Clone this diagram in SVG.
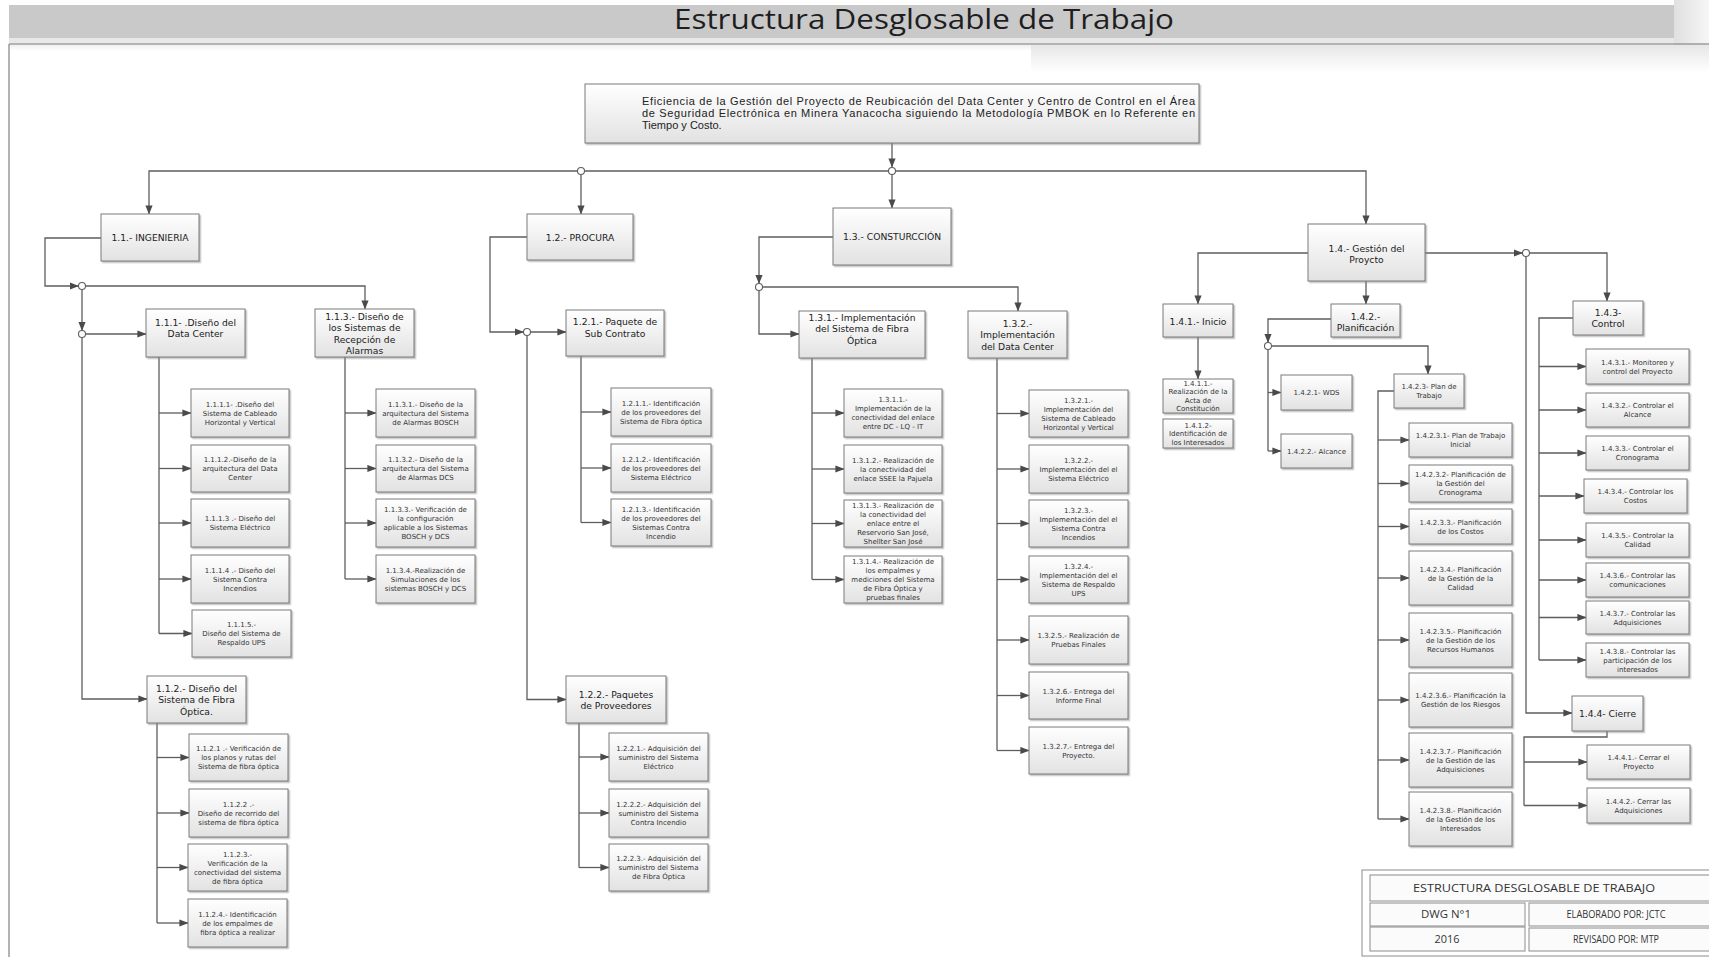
<svg xmlns="http://www.w3.org/2000/svg" width="1709" height="957" viewBox="0 0 1709 957">
<defs>
  <linearGradient id="boxfill" x1="0" y1="0" x2="0" y2="1">
    <stop offset="0" stop-color="#ffffff"/>
    <stop offset="1" stop-color="#e2e2e2"/>
  </linearGradient>
  <linearGradient id="fade" x1="0" y1="0" x2="0" y2="1">
    <stop offset="0" stop-color="#e6e6e6"/>
    <stop offset="1" stop-color="#ffffff"/>
  </linearGradient>
  <linearGradient id="edge" x1="0" y1="0" x2="1" y2="0">
    <stop offset="0" stop-color="#e0e0e0"/>
    <stop offset="1" stop-color="#f6f6f6"/>
  </linearGradient>
  <filter id="sh" x="-10%" y="-10%" width="130%" height="140%">
    <feDropShadow dx="1.5" dy="1.5" stdDeviation="0.6" flood-color="#8a8a8a" flood-opacity="0.55"/>
  </filter>
  <marker id="ah" markerWidth="9" markerHeight="8" refX="8.6" refY="4" orient="auto" markerUnits="userSpaceOnUse">
    <path d="M0,0.4 L9,4 L0,7.6 z" fill="#4a4a4a"/>
  </marker>
  <style>
    .box { fill: url(#boxfill); stroke: #7a7a7a; stroke-width: 1; filter: url(#sh); }
    .s { font-family: "DejaVu Sans", sans-serif; font-size: 7px; fill: #333; text-anchor: middle; }
    .m { font-family: "DejaVu Sans", sans-serif; font-size: 9.2px; fill: #222; text-anchor: middle; }
    .c { fill: none; stroke: #5e5e5e; stroke-width: 1.3; }
    .a { marker-end: url(#ah); }
    .j { fill: #fff; stroke: #5e5e5e; stroke-width: 1.1; }
    .cell { fill: #fbfbfb; stroke: #8c8c8c; stroke-width: 1; }
    .tb { font-family: "Open Sans", "Liberation Sans", sans-serif; font-size: 10.5px; fill: #333; text-anchor: middle; }
  </style>
</defs>

<!-- sheet background, title bar and frame -->
<rect x="0" y="0" width="1709" height="957" fill="#fff"/>
<rect x="9" y="5" width="1665" height="33" fill="#c9c9c9"/>
<rect x="1674" y="0" width="35" height="62" fill="url(#edge)"/>
<rect x="9" y="38" width="1665" height="5" fill="#e8e8e8"/>
<rect x="1031" y="45" width="678" height="27" fill="url(#fade)"/>
<rect x="10" y="45" width="1021" height="6" fill="url(#fade)" opacity="0.6"/>
<path d="M9,44 H1709 M9,44 V957" fill="none" stroke="#9a9a9a" stroke-width="1.5"/>
<text x="924" y="29" font-family="Open Sans, Liberation Sans, sans-serif" font-size="27" fill="#1e1e1e" text-anchor="middle" textLength="500" lengthAdjust="spacingAndGlyphs">Estructura Desglosable de Trabajo</text>

<!-- connectors -->
<g id="connectors">
  <path class="c a" d="M892,143 V167"/>
  <path class="c" d="M888.5,171 H584.5"/>
  <path class="c a" d="M577.5,171 H149 V214"/>
  <path class="c a" d="M581,174.5 V214"/>
  <path class="c a" d="M892,174.5 V208"/>
  <path class="c a" d="M895.5,171 H1366 V224"/>

  <!-- 1.1 -->
  <path class="c a" d="M101,238 H45 V286 H78.5"/>
  <path class="c a" d="M85.5,286 H365 V309"/>
  <path class="c a" d="M82,289.5 V330.5"/>
  <path class="c a" d="M85.5,334 H146"/>
  <path class="c a" d="M82,337.5 V699 H147"/>
  <path class="c" d="M159,357 V633.5"/>
  <path class="c a" d="M159,413 H191"/>
  <path class="c a" d="M159,468.5 H191"/>
  <path class="c a" d="M159,523 H191"/>
  <path class="c a" d="M159,579 H191"/>
  <path class="c a" d="M159,633.5 H192"/>
  <path class="c" d="M345,357 V579"/>
  <path class="c a" d="M345,413 H376"/>
  <path class="c a" d="M345,468.5 H376"/>
  <path class="c a" d="M345,523 H376"/>
  <path class="c a" d="M345,579 H376"/>
  <path class="c" d="M157,723 V923"/>
  <path class="c a" d="M157,757.5 H189"/>
  <path class="c a" d="M157,813 H189"/>
  <path class="c a" d="M157,867.5 H188"/>
  <path class="c a" d="M157,923 H188"/>

  <!-- 1.2 -->
  <path class="c a" d="M527,237 H490 V332 H523.5"/>
  <path class="c a" d="M530.5,332 H566"/>
  <path class="c a" d="M527,335.5 V699.5 H566"/>
  <path class="c" d="M581,356 V522.5"/>
  <path class="c a" d="M581,412 H611"/>
  <path class="c a" d="M581,468 H611"/>
  <path class="c a" d="M581,522.5 H611"/>
  <path class="c" d="M579,723 V867.5"/>
  <path class="c a" d="M579,757 H609"/>
  <path class="c a" d="M579,813 H609"/>
  <path class="c a" d="M579,867.5 H609"/>

  <!-- 1.3 -->
  <path class="c a" d="M833,237 H759 V283.5"/>
  <path class="c a" d="M762.5,287 H1018 V311"/>
  <path class="c a" d="M759,290.5 V334 H799"/>
  <path class="c" d="M812,358 V579.5"/>
  <path class="c a" d="M812,413 H844"/>
  <path class="c a" d="M812,469 H844"/>
  <path class="c a" d="M812,523.5 H844"/>
  <path class="c a" d="M812,579.5 H844"/>
  <path class="c" d="M997,358 V750.5"/>
  <path class="c a" d="M997,413.5 H1029"/>
  <path class="c a" d="M997,469 H1029"/>
  <path class="c a" d="M997,523.5 H1029"/>
  <path class="c a" d="M997,579.5 H1029"/>
  <path class="c a" d="M997,640 H1029"/>
  <path class="c a" d="M997,695.5 H1029"/>
  <path class="c a" d="M997,750.5 H1029"/>

  <!-- 1.4 -->
  <path class="c a" d="M1308,253 H1198 V304"/>
  <path class="c a" d="M1366,281 V304"/>
  <path class="c a" d="M1425,253 H1522.5"/>
  <path class="c a" d="M1198,337 V379"/>
  <path class="c a" d="M1331,319 H1268 V342.5"/>
  <path class="c a" d="M1271.5,346 H1428 V374"/>
  <path class="c" d="M1268,349.5 V451"/>
  <path class="c a" d="M1268,392.5 H1281"/>
  <path class="c a" d="M1268,451 H1281"/>
  <path class="c" d="M1394,391 H1378 V819"/>
  <path class="c a" d="M1378,440 H1409"/>
  <path class="c a" d="M1378,483.5 H1409"/>
  <path class="c a" d="M1378,526.5 H1409"/>
  <path class="c a" d="M1378,578 H1409"/>
  <path class="c a" d="M1378,640 H1409"/>
  <path class="c a" d="M1378,700 H1409"/>
  <path class="c a" d="M1378,760 H1409"/>
  <path class="c a" d="M1378,819 H1409"/>
  <path class="c a" d="M1529.5,253 H1607 V301"/>
  <path class="c a" d="M1526,256.5 V713 H1572"/>
  <path class="c" d="M1573,318 H1539 V660"/>
  <path class="c a" d="M1539,366.5 H1586"/>
  <path class="c a" d="M1539,410 H1586"/>
  <path class="c a" d="M1539,453 H1586"/>
  <path class="c a" d="M1539,496 H1584"/>
  <path class="c a" d="M1539,540 H1586"/>
  <path class="c a" d="M1539,580 H1586"/>
  <path class="c a" d="M1539,617.5 H1586"/>
  <path class="c a" d="M1539,660 H1586"/>
  <path class="c" d="M1607,731 V737 H1524 V805.5"/>
  <path class="c a" d="M1524,762 H1587"/>
  <path class="c a" d="M1524,805.5 H1587"/>

  <!-- junctions -->
  <circle class="j" cx="581" cy="171" r="3.5"/>
  <circle class="j" cx="892" cy="171" r="3.5"/>
  <circle class="j" cx="82" cy="286" r="3.5"/>
  <circle class="j" cx="82" cy="334" r="3.5"/>
  <circle class="j" cx="527" cy="332" r="3.5"/>
  <circle class="j" cx="759" cy="287" r="3.5"/>
  <circle class="j" cx="1268" cy="346" r="3.5"/>
  <circle class="j" cx="1526" cy="253" r="3.5"/>
</g>

<!-- root -->
<g id="n0">
  <rect class="box" x="585" y="84" width="614" height="59"/>
  <g font-family="Liberation Sans, Arial, sans-serif" font-size="11" fill="#222">
    <text x="642" y="105" textLength="553" lengthAdjust="spacing">Eficiencia de la Gestión del Proyecto de Reubicación del Data Center y Centro de Control en el Área</text>
    <text x="642" y="117" textLength="553" lengthAdjust="spacing">de Seguridad Electrónica en Minera Yanacocha siguiendo la Metodología PMBOK en lo Referente en</text>
    <text x="642" y="129">Tiempo y Costo.</text>
  </g>
</g>

<!-- level 1 -->
<g id="n1-1"><rect class="box" x="101" y="214" width="98" height="47"/><text class="m" x="150" y="241">1.1.- INGENIERIA</text></g>
<g id="n1-2"><rect class="box" x="527" y="214" width="106" height="46"/><text class="m" x="580" y="240.5">1.2.- PROCURA</text></g>
<g id="n1-3"><rect class="box" x="833" y="208" width="118" height="57"/><text class="m" x="892" y="239.5">1.3.- CONSTURCCIÓN</text></g>
<g id="n1-4"><rect class="box" x="1308" y="224" width="117" height="57"/><text class="m" x="1366.5" y="251.5">1.4.- Gestión del<tspan x="1366.5" dy="11">Proycto</tspan></text></g>

<!-- 1.1 branch -->
<g id="n1-1-1"><rect class="box" x="146" y="309" width="99" height="48"/><text class="m" x="195.5" y="325.5">1.1.1- .Diseño del<tspan x="195.5" dy="11.5">Data Center</tspan></text></g>
<g id="n1-1-3"><rect class="box" x="315" y="309" width="99" height="48"/><text class="m" x="364.5" y="319.5">1.1.3.- Diseño de<tspan x="364.5" dy="11.5">los Sistemas de</tspan><tspan x="364.5" dy="11.5">Recepción de</tspan><tspan x="364.5" dy="11.5">Alarmas</tspan></text></g>
<g id="n1-1-2"><rect class="box" x="147" y="676" width="99" height="47"/><text class="m" x="196.5" y="691.5">1.1.2.- Diseño del<tspan x="196.5" dy="11.5">Sistema de Fibra</tspan><tspan x="196.5" dy="11.5">Óptica.</tspan></text></g>

<g id="n1-1-1-1"><rect class="box" x="191" y="389" width="98" height="48"/><text class="s" x="240" y="406.5">1.1.1.1- .Diseño del<tspan x="240" dy="9">Sistema de  Cableado</tspan><tspan x="240" dy="9">Horizontal y Vertical</tspan></text></g>
<g id="n1-1-1-2"><rect class="box" x="191" y="445" width="98" height="47"/><text class="s" x="240" y="462">1.1.1.2.-Diseño de la<tspan x="240" dy="9">arquitectura del Data</tspan><tspan x="240" dy="9">Center</tspan></text></g>
<g id="n1-1-1-3"><rect class="box" x="191" y="499" width="98" height="48"/><text class="s" x="240" y="521">1.1.1.3 .- Diseño del<tspan x="240" dy="9">Sistema Eléctrico</tspan></text></g>
<g id="n1-1-1-4"><rect class="box" x="191" y="555" width="98" height="48"/><text class="s" x="240" y="572.5">1.1.1.4 .- Diseño del<tspan x="240" dy="9">Sistema Contra</tspan><tspan x="240" dy="9">Incendios</tspan></text></g>
<g id="n1-1-1-5"><rect class="box" x="192" y="610" width="99" height="47"/><text class="s" x="241.5" y="627">1.1.1.5.-<tspan x="241.5" dy="9">Diseño del Sistema de</tspan><tspan x="241.5" dy="9">Respaldo  UPS</tspan></text></g>

<g id="n1-1-3-1"><rect class="box" x="376" y="389" width="99" height="48"/><text class="s" x="425.5" y="406.5">1.1.3.1.- Diseño de la<tspan x="425.5" dy="9">arquitectura del Sistema</tspan><tspan x="425.5" dy="9">de Alarmas BOSCH</tspan></text></g>
<g id="n1-1-3-2"><rect class="box" x="376" y="445" width="99" height="47"/><text class="s" x="425.5" y="462">1.1.3.2.-  Diseño de la<tspan x="425.5" dy="9">arquitectura del  Sistema</tspan><tspan x="425.5" dy="9">de Alarmas DCS</tspan></text></g>
<g id="n1-1-3-3"><rect class="box" x="376" y="499" width="99" height="48"/><text class="s" x="425.5" y="512">1.1.3.3.- Verificación de<tspan x="425.5" dy="9">la configuración</tspan><tspan x="425.5" dy="9">aplicable a  los Sistemas</tspan><tspan x="425.5" dy="9">BOSCH y DCS</tspan></text></g>
<g id="n1-1-3-4"><rect class="box" x="376" y="555" width="99" height="48"/><text class="s" x="425.5" y="572.5">1.1.3.4.-Realización de<tspan x="425.5" dy="9">Simulaciones de   los</tspan><tspan x="425.5" dy="9">sistemas  BOSCH y DCS</tspan></text></g>

<g id="n1-1-2-1"><rect class="box" x="189" y="734" width="99" height="47"/><text class="s" x="238.5" y="751">1.1.2.1 .- Verificación de<tspan x="238.5" dy="9">los planos  y rutas del</tspan><tspan x="238.5" dy="9">Sistema de fibra óptica</tspan></text></g>
<g id="n1-1-2-2"><rect class="box" x="189" y="789" width="99" height="48"/><text class="s" x="238.5" y="806.5">1.1.2.2 .-<tspan x="238.5" dy="9">Diseño de  recorrido del</tspan><tspan x="238.5" dy="9">sistema de fibra óptica</tspan></text></g>
<g id="n1-1-2-3"><rect class="box" x="188" y="844" width="99" height="47"/><text class="s" x="237.5" y="856.5">1.1.2.3.-<tspan x="237.5" dy="9">Verificación de la</tspan><tspan x="237.5" dy="9">conectividad del sistema</tspan><tspan x="237.5" dy="9">de fibra óptica</tspan></text></g>
<g id="n1-1-2-4"><rect class="box" x="188" y="899" width="99" height="48"/><text class="s" x="237.5" y="916.5">1.1.2.4.- Identificación<tspan x="237.5" dy="9">de los empalmes de</tspan><tspan x="237.5" dy="9">fibra óptica a realizar</tspan></text></g>

<!-- 1.2 branch -->
<g id="n1-2-1"><rect class="box" x="566" y="310" width="98" height="46"/><text class="m" x="615" y="325">1.2.1.- Paquete de<tspan x="615" dy="12">Sub Contrato</tspan></text></g>
<g id="n1-2-2"><rect class="box" x="566" y="676" width="100" height="47"/><text class="m" x="616" y="697.5">1.2.2.- Paquetes<tspan x="616" dy="11.5">de Proveedores</tspan></text></g>

<g id="n1-2-1-1"><rect class="box" x="611" y="388" width="100" height="48"/><text class="s" x="661" y="405.5">1.2.1.1.- Identificación<tspan x="661" dy="9">de los proveedores del</tspan><tspan x="661" dy="9">Sistema de Fibra óptica</tspan></text></g>
<g id="n1-2-1-2"><rect class="box" x="611" y="444" width="100" height="48"/><text class="s" x="661" y="461.5">1.2.1.2.- Identificación<tspan x="661" dy="9">de  los proveedores del</tspan><tspan x="661" dy="9">Sistema Eléctrico</tspan></text></g>
<g id="n1-2-1-3"><rect class="box" x="611" y="499" width="100" height="47"/><text class="s" x="661" y="511.5">1.2.1.3.- Identificación<tspan x="661" dy="9">de  los proveedores del</tspan><tspan x="661" dy="9">Sistemas Contra</tspan><tspan x="661" dy="9">Incendio</tspan></text></g>
<g id="n1-2-2-1"><rect class="box" x="609" y="733" width="99" height="48"/><text class="s" x="658.5" y="750.5">1.2.2.1.- Adquisición del<tspan x="658.5" dy="9">suministro del Sistema</tspan><tspan x="658.5" dy="9">Eléctrico</tspan></text></g>
<g id="n1-2-2-2"><rect class="box" x="609" y="789" width="99" height="48"/><text class="s" x="658.5" y="806.5">1.2.2.2.- Adquisición del<tspan x="658.5" dy="9">suministro del Sistema</tspan><tspan x="658.5" dy="9">Contra Incendio</tspan></text></g>
<g id="n1-2-2-3"><rect class="box" x="609" y="844" width="99" height="47"/><text class="s" x="658.5" y="861">1.2.2.3.- Adquisición del<tspan x="658.5" dy="9">suministro del Sistema</tspan><tspan x="658.5" dy="9">de Fibra Óptica</tspan></text></g>

<!-- 1.3 branch -->
<g id="n1-3-1"><rect class="box" x="799" y="311" width="126" height="47"/><text class="m" x="862" y="320.5">1.3.1.- Implementación<tspan x="862" dy="11.5">del Sistema de Fibra</tspan><tspan x="862" dy="11.5">Óptica</tspan></text></g>
<g id="n1-3-2"><rect class="box" x="968" y="311" width="99" height="47"/><text class="m" x="1017.5" y="326.5">1.3.2.-<tspan x="1017.5" dy="11.5">Implementación</tspan><tspan x="1017.5" dy="11.5">del Data Center</tspan></text></g>

<g id="n1-3-1-1"><rect class="box" x="844" y="389" width="98" height="48"/><text class="s" x="893" y="402">1.3.1.1.-<tspan x="893" dy="9">Implementación de la</tspan><tspan x="893" dy="9">conectividad del enlace</tspan><tspan x="893" dy="9">entre DC  - LQ  - IT</tspan></text></g>
<g id="n1-3-1-2"><rect class="box" x="844" y="445" width="98" height="48"/><text class="s" x="893" y="462.5">1.3.1.2.- Realización de<tspan x="893" dy="9">la  conectividad del</tspan><tspan x="893" dy="9">enlace  SSEE la Pajuela</tspan></text></g>
<g id="n1-3-1-3"><rect class="box" x="844" y="500" width="98" height="47"/><text class="s" x="893" y="508">1.3.1.3.- Realización de<tspan x="893" dy="9">la conectividad del</tspan><tspan x="893" dy="9">enlace entre el</tspan><tspan x="893" dy="9">Reservorio San José,</tspan><tspan x="893" dy="9">Shellter San José</tspan></text></g>
<g id="n1-3-1-4"><rect class="box" x="844" y="556" width="98" height="47"/><text class="s" x="893" y="564">1.3.1.4.- Realización de<tspan x="893" dy="9">los empalmes y</tspan><tspan x="893" dy="9">mediciones del Sistema</tspan><tspan x="893" dy="9">de Fibra Óptica  y</tspan><tspan x="893" dy="9">pruebas finales</tspan></text></g>

<g id="n1-3-2-1"><rect class="box" x="1029" y="390" width="99" height="47"/><text class="s" x="1078.5" y="402.5">1.3.2.1.-<tspan x="1078.5" dy="9">Implementación del</tspan><tspan x="1078.5" dy="9">Sistema de Cableado</tspan><tspan x="1078.5" dy="9">Horizontal y Vertical</tspan></text></g>
<g id="n1-3-2-2"><rect class="box" x="1029" y="445" width="99" height="48"/><text class="s" x="1078.5" y="462.5">1.3.2.2.-<tspan x="1078.5" dy="9">Implementación del el</tspan><tspan x="1078.5" dy="9">Sistema Eléctrico</tspan></text></g>
<g id="n1-3-2-3"><rect class="box" x="1029" y="500" width="99" height="47"/><text class="s" x="1078.5" y="512.5">1.3.2.3.-<tspan x="1078.5" dy="9">Implementación del el</tspan><tspan x="1078.5" dy="9">Sistema Contra</tspan><tspan x="1078.5" dy="9">Incendios</tspan></text></g>
<g id="n1-3-2-4"><rect class="box" x="1029" y="556" width="99" height="47"/><text class="s" x="1078.5" y="568.5">1.3.2.4.-<tspan x="1078.5" dy="9">Implementación del el</tspan><tspan x="1078.5" dy="9">Sistema de Respaldo</tspan><tspan x="1078.5" dy="9">UPS</tspan></text></g>
<g id="n1-3-2-5"><rect class="box" x="1029" y="616" width="99" height="48"/><text class="s" x="1078.5" y="638">1.3.2.5.- Realización de<tspan x="1078.5" dy="9">Pruebas Finales</tspan></text></g>
<g id="n1-3-2-6"><rect class="box" x="1029" y="672" width="99" height="47"/><text class="s" x="1078.5" y="693.5">1.3.2.6.- Entrega del<tspan x="1078.5" dy="9">Informe Final</tspan></text></g>
<g id="n1-3-2-7"><rect class="box" x="1029" y="727" width="99" height="47"/><text class="s" x="1078.5" y="748.5">1.3.2.7.- Entrega del<tspan x="1078.5" dy="9">Proyecto.</tspan></text></g>

<!-- 1.4 branch -->
<g id="n1-4-1"><rect class="box" x="1163" y="304" width="70" height="33"/><text class="m" x="1198" y="324.5">1.4.1.- Inicio</text></g>
<g id="n1-4-2"><rect class="box" x="1331" y="304" width="69" height="33"/><text class="m" x="1365.5" y="319.5">1.4.2.-<tspan x="1365.5" dy="11">Planificación</tspan></text></g>
<g id="n1-4-3"><rect class="box" x="1573" y="301" width="70" height="34"/><text class="m" x="1608" y="315.5">1.4.3-<tspan x="1608" dy="11">Control</tspan></text></g>
<g id="n1-4-4"><rect class="box" x="1572" y="696" width="71" height="35"/><text class="m" x="1607.5" y="716.5">1.4.4- Cierre</text></g>

<g id="n1-4-1-1"><rect class="box" x="1163" y="379" width="70" height="34"/><text class="s" x="1198" y="385.5">1.4.1.1.-<tspan x="1198" dy="8.6">Realización de la</tspan><tspan x="1198" dy="8.6">Acta de</tspan><tspan x="1198" dy="8.6">Constitución</tspan></text></g>
<g id="n1-4-1-2"><rect class="box" x="1163" y="419" width="70" height="29"/><text class="s" x="1198" y="427.5">1.4.1.2-<tspan x="1198" dy="8.5">Identificación de</tspan><tspan x="1198" dy="8.5">los Interesados</tspan></text></g>

<g id="n1-4-2-1"><rect class="box" x="1281" y="375" width="71" height="35"/><text class="s" x="1316.5" y="395">1.4.2.1- WDS</text></g>
<g id="n1-4-2-2"><rect class="box" x="1281" y="434" width="71" height="34"/><text class="s" x="1316.5" y="453.5">1.4.2.2.- Alcance</text></g>
<g id="n1-4-2-3"><rect class="box" x="1394" y="374" width="70" height="34"/><text class="s" x="1429" y="389">1.4.2.3- Plan de<tspan x="1429" dy="9">Trabajo</tspan></text></g>

<g id="n1-4-2-3-1"><rect class="box" x="1409" y="423" width="103" height="34"/><text class="s" x="1460.5" y="438">1.4.2.3.1- Plan de Trabajo<tspan x="1460.5" dy="9">Inicial</tspan></text></g>
<g id="n1-4-2-3-2"><rect class="box" x="1409" y="465" width="103" height="37"/><text class="s" x="1460.5" y="477">1.4.2.3.2- Planificación de<tspan x="1460.5" dy="9">la Gestión del</tspan><tspan x="1460.5" dy="9">Cronograma</tspan></text></g>
<g id="n1-4-2-3-3"><rect class="box" x="1409" y="509" width="103" height="35"/><text class="s" x="1460.5" y="524.5">1.4.2.3.3.- Planificación<tspan x="1460.5" dy="9">de los Costos</tspan></text></g>
<g id="n1-4-2-3-4"><rect class="box" x="1409" y="551" width="103" height="54"/><text class="s" x="1460.5" y="571.5">1.4.2.3.4.- Planificación<tspan x="1460.5" dy="9">de la Gestión de la</tspan><tspan x="1460.5" dy="9">Calidad</tspan></text></g>
<g id="n1-4-2-3-5"><rect class="box" x="1409" y="613" width="103" height="54"/><text class="s" x="1460.5" y="633.5">1.4.2.3.5.- Planificación<tspan x="1460.5" dy="9">de la Gestión de los</tspan><tspan x="1460.5" dy="9">Recursos Humanos</tspan></text></g>
<g id="n1-4-2-3-6"><rect class="box" x="1409" y="673" width="103" height="54"/><text class="s" x="1460.5" y="698">1.4.2.3.6.- Planificación la<tspan x="1460.5" dy="9">Gestión de los Riesgos</tspan></text></g>
<g id="n1-4-2-3-7"><rect class="box" x="1409" y="733" width="103" height="54"/><text class="s" x="1460.5" y="753.5">1.4.2.3.7.- Planificación<tspan x="1460.5" dy="9">de la Gestión de las</tspan><tspan x="1460.5" dy="9">Adquisiciones</tspan></text></g>
<g id="n1-4-2-3-8"><rect class="box" x="1409" y="792" width="103" height="54"/><text class="s" x="1460.5" y="812.5">1.4.2.3.8.- Planificación<tspan x="1460.5" dy="9">de la Gestión de los</tspan><tspan x="1460.5" dy="9">Interesados</tspan></text></g>

<g id="n1-4-3-1"><rect class="box" x="1586" y="349" width="103" height="35"/><text class="s" x="1637.5" y="364.5">1.4.3.1.- Monitoreo y<tspan x="1637.5" dy="9">control del Proyecto</tspan></text></g>
<g id="n1-4-3-2"><rect class="box" x="1586" y="393" width="103" height="34"/><text class="s" x="1637.5" y="408">1.4.3.2.- Controlar el<tspan x="1637.5" dy="9">Alcance</tspan></text></g>
<g id="n1-4-3-3"><rect class="box" x="1586" y="436" width="103" height="34"/><text class="s" x="1637.5" y="451">1.4.3.3.- Controlar el<tspan x="1637.5" dy="9">Cronograma</tspan></text></g>
<g id="n1-4-3-4"><rect class="box" x="1584" y="479" width="103" height="34"/><text class="s" x="1635.5" y="494">1.4.3.4.- Controlar los<tspan x="1635.5" dy="9">Costos</tspan></text></g>
<g id="n1-4-3-5"><rect class="box" x="1586" y="523" width="103" height="34"/><text class="s" x="1637.5" y="538">1.4.3.5.- Controlar la<tspan x="1637.5" dy="9">Calidad</tspan></text></g>
<g id="n1-4-3-6"><rect class="box" x="1586" y="563" width="103" height="34"/><text class="s" x="1637.5" y="578">1.4.3.6.- Controlar las<tspan x="1637.5" dy="9">comunicaciones</tspan></text></g>
<g id="n1-4-3-7"><rect class="box" x="1586" y="601" width="103" height="33"/><text class="s" x="1637.5" y="615.5">1.4.3.7.- Controlar las<tspan x="1637.5" dy="9">Adquisiciones</tspan></text></g>
<g id="n1-4-3-8"><rect class="box" x="1586" y="643" width="103" height="34"/><text class="s" x="1637.5" y="653.5">1.4.3.8.- Controlar las<tspan x="1637.5" dy="9">participación de los</tspan><tspan x="1637.5" dy="9">interesados</tspan></text></g>

<g id="n1-4-4-1"><rect class="box" x="1587" y="745" width="103" height="34"/><text class="s" x="1638.5" y="760">1.4.4.1.- Cerrar el<tspan x="1638.5" dy="9">Proyecto</tspan></text></g>
<g id="n1-4-4-2"><rect class="box" x="1587" y="788" width="103" height="35"/><text class="s" x="1638.5" y="803.5">1.4.4.2.- Cerrar las<tspan x="1638.5" dy="9">Adquisiciones</tspan></text></g>

<!-- title block -->
<g id="titleblock">
  <rect x="1362" y="870" width="360" height="86" fill="#fff" stroke="#8c8c8c" stroke-width="1"/>
  <rect class="cell" x="1370" y="875" width="345" height="26"/>
  <rect class="cell" x="1370" y="903" width="155" height="23"/>
  <rect class="cell" x="1529" y="903" width="186" height="23"/>
  <rect class="cell" x="1370" y="927" width="155" height="24"/>
  <rect class="cell" x="1529" y="928" width="186" height="23"/>
  <text class="tb" x="1534" y="891.5" textLength="242" lengthAdjust="spacingAndGlyphs">ESTRUCTURA DESGLOSABLE DE TRABAJO</text>
  <text class="tb" x="1446" y="918" textLength="50" lengthAdjust="spacingAndGlyphs">DWG N°1</text>
  <text class="tb" x="1616" y="918" textLength="99" lengthAdjust="spacingAndGlyphs">ELABORADO POR: JCTC</text>
  <text class="tb" x="1447" y="942.5" textLength="25" lengthAdjust="spacingAndGlyphs">2016</text>
  <text class="tb" x="1616" y="942.5" textLength="86" lengthAdjust="spacingAndGlyphs">REVISADO POR: MTP</text>
</g>
</svg>
